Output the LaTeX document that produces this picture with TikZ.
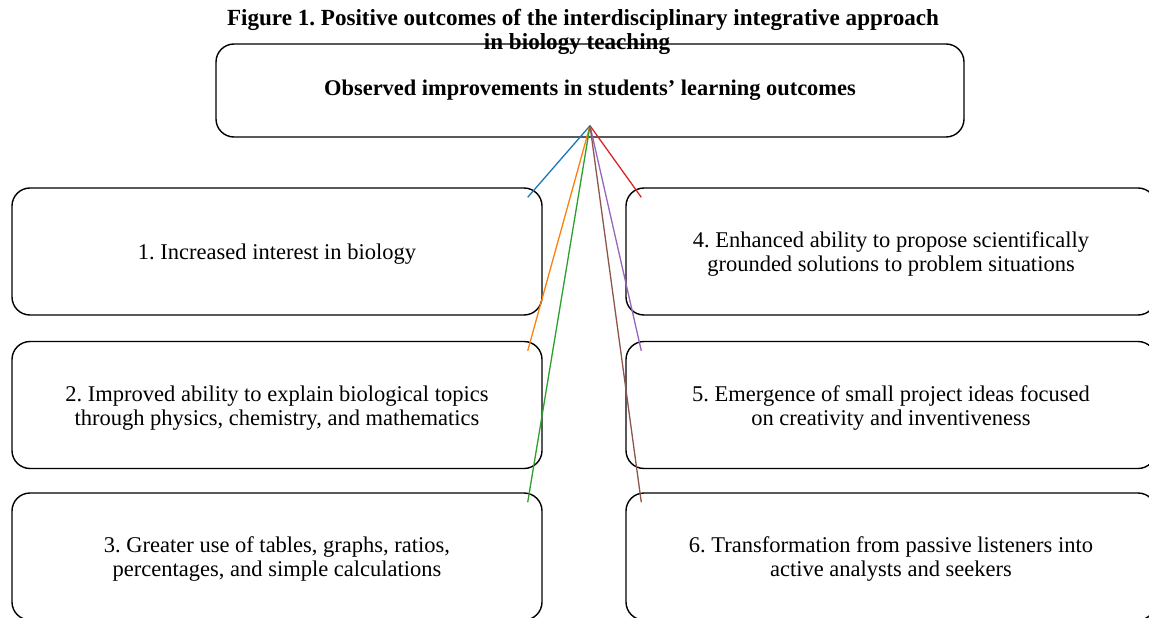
\documentclass[tikz,border=0pt]{standalone}
\usepackage{fontspec}
\setmainfont{Liberation Serif}
\usetikzlibrary{calc}
\definecolor{tabblue}{HTML}{1F77B4}
\definecolor{taborange}{HTML}{FF7F0E}
\definecolor{tabgreen}{HTML}{2CA02C}
\definecolor{tabred}{HTML}{D62728}
\definecolor{tabpurple}{HTML}{9467BD}
\definecolor{tabbrown}{HTML}{8C564B}
\frenchspacing
\begin{document}
\begin{tikzpicture}[x=1pt,y=-1pt,
  outbox/.style={draw, rounded corners=18pt, line width=1.4pt, minimum width=530pt,
    minimum height=127pt, inner sep=0pt},
  boxtext/.style={align=center, inner sep=0pt, font=\fontsize{22.5}{24}\selectfont},
  topbox/.style={outbox, minimum width=748pt, minimum height=93pt, align=center,
    font=\fontsize{22.4}{24}\selectfont\bfseries},
  titletext/.style={anchor=base, inner sep=0pt, font=\fontsize{23.1}{24}\selectfont\bfseries},
  link/.style={line width=1.3pt}]
\useasboundingbox (0,0) rectangle (1149,618);
\clip (0,0) rectangle (1149,618);
\node[titletext] (t1) at (583,26) {Figure 1. Positive outcomes of the interdisciplinary integrative approach};
\node[titletext] (t2) at (577,50) {in biology teaching};
\node[topbox] (top) at (590,90.5) {Observed improvements in students’ learning outcomes};
\node[outbox] (b1) at (277,251.5) {};
\node[outbox] (b2) at (277,405) {};
\node[outbox] (b3) at (277,556.5) {};
\node[outbox] (b4) at (891,251.5) {};
\node[outbox] (b5) at (891,405) {};
\node[outbox] (b6) at (891,556.5) {};
\node[boxtext] (b1t) at ($(b1.center)+(0,3)$) {1. Increased interest in biology};
\node[boxtext] (b2t) at ($(b2.center)+(0,3)$) {2. Improved ability to explain biological topics\\through physics, chemistry, and mathematics};
\node[boxtext] (b3t) at ($(b3.center)+(0,3)$) {3. Greater use of tables, graphs, ratios,\\percentages, and simple calculations};
\node[boxtext] (b4t) at ($(b4.center)+(0,3)$) {4. Enhanced ability to propose scientifically\\grounded solutions to problem situations};
\node[boxtext] (b5t) at ($(b5.center)+(0,3)$) {5. Emergence of small project ideas focused\\on creativity and inventiveness};
\node[boxtext] (b6t) at ($(b6.center)+(0,3)$) {6. Transformation from passive listeners into\\active analysts and seekers};
\coordinate (apex) at ($(top.south)+(0,-12)$);
\coordinate (e1) at ($(b1.north east)+(-15,10)$);
\coordinate (e2) at ($(b2.north east)+(-15,10)$);
\coordinate (e3) at ($(b3.north east)+(-15,10)$);
\coordinate (e4) at ($(b4.north west)+(16,10)$);
\coordinate (e5) at ($(b5.north west)+(16,10)$);
\coordinate (e6) at ($(b6.north west)+(16,10)$);
\draw[link, tabblue] (apex) -- (e1);
\draw[link, taborange] (apex) -- (e2);
\draw[link, tabgreen] (apex) -- (e3);
\draw[link, tabred] (apex) -- (e4);
\draw[link, tabpurple] (apex) -- (e5);
\draw[link, tabbrown] (apex) -- (e6);
\end{tikzpicture}
\end{document}
